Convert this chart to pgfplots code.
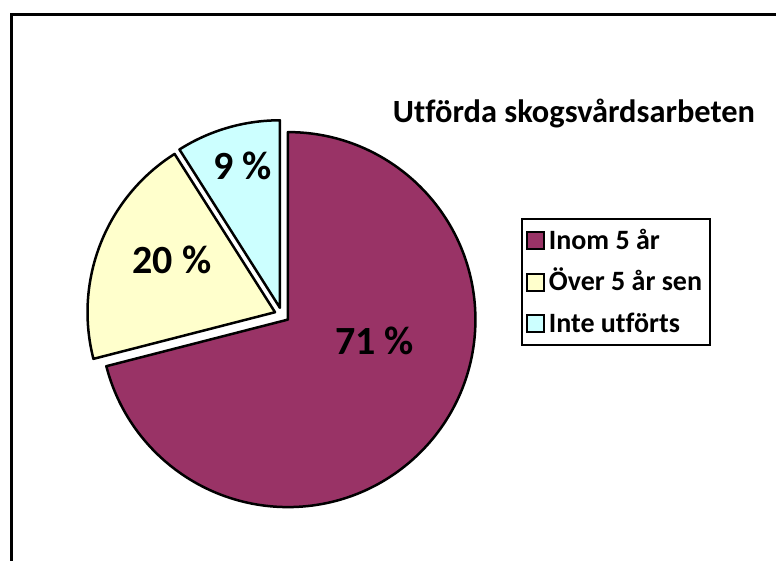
\documentclass[border=0pt]{standalone}
\usepackage{fontspec}
\setmainfont{Carlito}[Ligatures={NoCommon}]
\usepackage{pgfplots}
\usepackage{pgfplotstable}
\pgfplotsset{compat=1.18}
\definecolor{cmaroon}{HTML}{993366}
\definecolor{cyellow}{HTML}{FFFFCC}
\definecolor{ccyan}{HTML}{CCFFFF}
\pgfplotstableread{
label value
Inom 71
Over 20
Inte 9
}\piedata
\begin{document}
\begin{tikzpicture}
\useasboundingbox (0,0) rectangle (388pt,280.5pt);
\pgfplotstablegetelem{0}{value}\of\piedata \let\va\pgfplotsretval
\pgfplotstablegetelem{1}{value}\of\piedata \let\vb\pgfplotsretval
\pgfplotstablegetelem{2}{value}\of\piedata \let\vc\pgfplotsretval
\pgfmathsetmacro\aA{90}
\pgfmathsetmacro\aB{\aA-3.6*\va}
\pgfmathsetmacro\aC{\aB-3.6*\vb}
\pgfmathsetmacro\aD{\aC-3.6*\vc}
\pgfmathsetmacro\mA{(\aA+\aB)/2}
\pgfmathsetmacro\mB{(\aB+\aC)/2}
\pgfmathsetmacro\mC{(\aC+\aD)/2}
\def\R{93.75pt}
\def\d{3.75pt}
\begin{axis}[
  at={(0,0)}, anchor=south west,
  width=388pt, height=280.5pt, scale only axis,
  xmin=0, xmax=776, ymin=0, ymax=561,
  hide axis, clip=false,
  legend style={at={(axis description cs:0.6714,0.6114)}, anchor=north west,
    draw=black, line width=1.1pt, font=\fontsize{14pt}{16pt}\selectfont\bfseries,
    inner xsep=2pt, inner ysep=3.5pt, row sep=6.3pt,
    nodes={inner sep=2pt, text height=9.5pt, text depth=1pt}},
  legend cell align=left,
  legend image code/.code={\filldraw[#1, draw=black, line width=0.9pt] (0pt,-4.25pt) rectangle (8.5pt,4.25pt);},
]
\addlegendimage{fill=cmaroon}
\addlegendentry{Inom 5 år}
\addlegendimage{fill=cyellow}
\addlegendentry{Över 5 år sen}
\addlegendimage{fill=ccyan}
\addlegendentry{Inte utförts}
% frame
\draw[black, line width=1.5pt] (axis cs:11,-20) -- (axis cs:11,546) -- (axis cs:800,546);
% slices
\filldraw[fill=cmaroon, draw=black, line width=1.25pt, line join=round]
  (axis cs:282,246) ++(\mA:\d) -- ++(\aA:\R) arc[start angle=\aA, end angle=\aB, radius=\R] -- cycle;
\filldraw[fill=cyellow, draw=black, line width=1.25pt, line join=round]
  (axis cs:282,246) ++(\mB:\d) -- ++(\aB:\R) arc[start angle=\aB, end angle=\aC, radius=\R] -- cycle;
\filldraw[fill=ccyan, draw=black, line width=1.25pt, line join=round]
  (axis cs:282,246) ++(\mC:\d) -- ++(\aC:\R) arc[start angle=\aC, end angle=\aD, radius=\R] -- cycle;
% labels
\node[anchor=base, font=\fontsize{20pt}{23pt}\selectfont\bfseries] at (axis cs:374.5,206) {71 \%};
\node[anchor=base, font=\fontsize{20pt}{23pt}\selectfont\bfseries] at (axis cs:172,287) {20 \%};
\node[anchor=base, font=\fontsize{20pt}{23pt}\selectfont\bfseries] at (axis cs:242.5,381) {9 \%};
% title
\node[anchor=base, font=\fontsize{16.2pt}{19pt}\selectfont\bfseries] at (axis cs:574,438) {Utförda skogsvårdsarbeten};
\end{axis}
\end{tikzpicture}
\end{document}
